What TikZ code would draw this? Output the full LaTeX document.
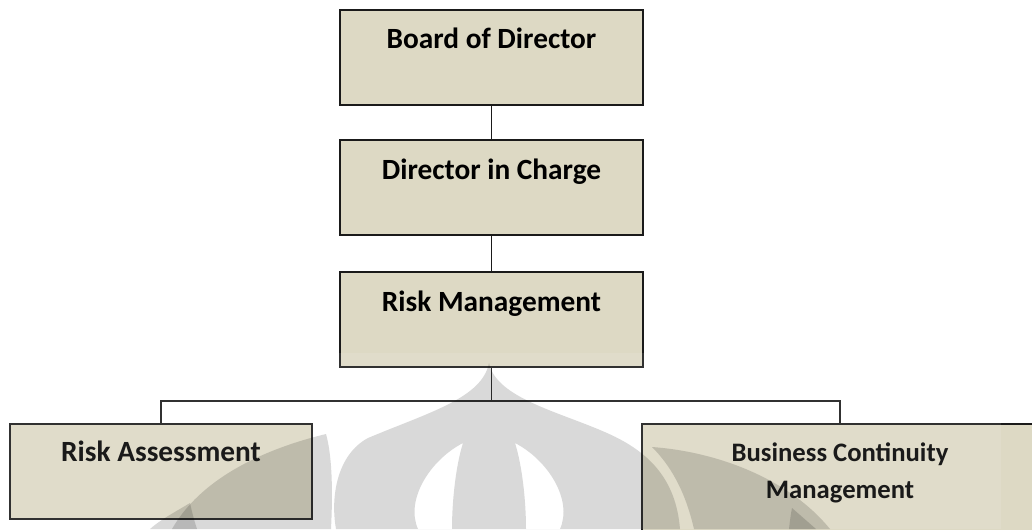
\documentclass[tikz,border=0pt]{standalone}
\usepackage{fontspec}
\setmainfont{Carlito}
\usepackage{xcolor}
\usepackage{tikz}
\usetikzlibrary{calc}
\definecolor{ink}{HTML}{1A1A1A}
\definecolor{tan}{HTML}{DDD9C4}
\tikzset{
  unit/.style={draw=ink, line width=1.4pt, fill=tan, inner sep=0pt},
  top/.style={unit, minimum width=227.25pt, minimum height=71.25pt},
  low/.style={unit, minimum width=226.5pt, minimum height=71.25pt},
  wide/.style={unit, minimum width=297pt, minimum height=102pt},
  lab/.style={text=black, inner sep=0pt, anchor=base, font=\fontsize{22}{26}\selectfont\bfseries},
  labs/.style={text=black, inner sep=0pt, anchor=north, align=center, font=\fontsize{20}{27.75}\selectfont\bfseries},
  link/.style={draw=ink, line width=1.4pt},
  haze/.style={fill=black, fill opacity=0.15},
}

\begin{document}
\begin{tikzpicture}[x=0.75pt, y=-0.75pt]
  \useasboundingbox (0,0) rectangle (1032,529);
  \fill[white] (0,0) rectangle (1032,529);
  \clip (0,0) rectangle (1032,529);

  % boxes
  \node[top] (bod) at (491.5,57.5) {};
  \node[top] (dic) at (491.5,187.5) {};
  \node[top] (rm) at (491.5,319.5) {};
  \node[low] (ra) at (161,471.5) {};
  \node[wide] (bcm) at (840,492) {};

  \node[lab] (bodtxt) at ($(bod.north)+(0,39)$) {Board of Director};
  \node[lab] (dictxt) at ($(dic.north)+(0,40)$) {Director in Charge};
  \node[lab] (rmtxt) at ($(rm.north)+(0,40)$) {Risk Management};
  \node[lab] (ratxt) at ($(ra.north)+(0,38)$) {Risk Assessment};
  \node[labs] (bcmtxt) at ($(bcm.north)+(0,19)$) {Business Continuity\\Management};

  % lines
  \coordinate (bus) at ($(rm.south)+(0,33)$);
  \draw[link] (bod) -- (dic);
  \draw[link] (dic) -- (rm);
  \draw[link] (rm.south) -- (bus);
  \draw[link] (ra.north) |- (bus) -| (bcm.north);

  % faded logo in the back
  \fill[white, opacity=0.1] (0,353) rectangle (1001,529);
  \fill[haze, even odd rule]
    (336,529) .. controls (330,495) and (338,454) .. (368,438)
      .. controls (430,412) and (482,398) .. (489,363)
      .. controls (496,398) and (560,412) .. (607,433)
      .. controls (650,452) and (676,480) .. (680,529) -- cycle
    (463,443) .. controls (430,460) and (405,500) .. (418,529)
      -- (452,529) .. controls (452,500) and (456,465) .. (463,443)
    (515,443) .. controls (548,460) and (573,500) .. (560,529)
      -- (526,529) .. controls (526,500) and (522,465) .. (515,443);
  \fill[haze] (326,434) .. controls (260,450) and (200,480) .. (172,529)
    -- (331,529) .. controls (333,490) and (332,455) .. (326,434) -- cycle;
  \fill[haze] (652,447) .. controls (720,452) and (790,480) .. (830,529)
    -- (694,529) .. controls (685,490) and (670,465) .. (652,447) -- cycle;
  \fill[haze] (190,503) .. controls (175,512) and (160,520) .. (150,529)
    -- (197,529) .. controls (194,520) and (192,512) .. (190,503) -- cycle;
  \fill[haze] (792,508) .. controls (800,515) and (808,522) .. (816,529)
    -- (789,529) .. controls (790,520) and (791,513) .. (792,508) -- cycle;
\end{tikzpicture}
\end{document}
